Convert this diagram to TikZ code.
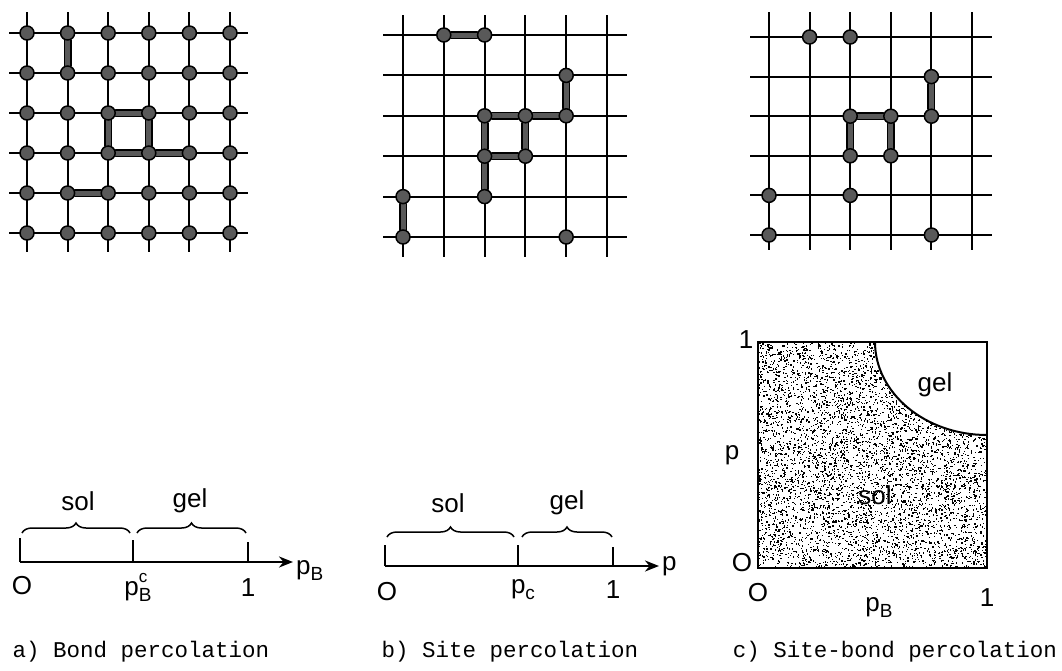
\documentclass[tikz,border=0pt]{standalone}
\usepackage{fontspec}
\setmainfont{Liberation Sans}
\setmonofont{Liberation Mono}
\usetikzlibrary{arrows.meta,decorations.pathreplacing,backgrounds}
\newcommand{\psub}[1]{{\fontsize{19}{19}\selectfont\raisebox{-6pt}{#1}}}
\newcommand{\psup}[1]{{\fontsize{17}{17}\selectfont\raisebox{13pt}{#1}}}

\begin{document}
\begin{tikzpicture}[x=1pt,y=-1pt,
  every node/.style={font=\fontsize{26}{29}\selectfont},
  gridline/.style={line width=2pt},
  site/.style={circle,draw,line width=1.5pt,fill=black!65,minimum size=14pt,inner sep=0pt},
  bond/.style={line width=5pt,black!65,line cap=round,preaction={draw=black,line width=8pt,line cap=round}},
  axis/.style={line width=2.4pt,-{Stealth[length=14pt,width=11pt]}},
  tickline/.style={line width=2pt},
  curly/.style={decorate,decoration={brace,amplitude=10pt},line width=1.5pt},
  capt/.style={font=\ttfamily\fontsize{22.5}{26}\selectfont}]
\useasboundingbox (0,0) rectangle (1062,670);

% a) bond lattice
\begin{scope}[shift={(27,33)}]
\begin{pgfonlayer}{background}
\foreach \i in {0,...,5} {
  \draw[gridline] (-18,\i*40) -- (221,\i*40);
  \draw[gridline] (\i*40.6,-21) -- (\i*40.6,219);
}
\end{pgfonlayer}
\foreach \r in {0,...,5}
  \foreach \c in {0,...,5}
    \node[site] (a\r\c) at (\c*40.6,\r*40) {};
\end{scope}
\begin{pgfonlayer}{background}
\draw[bond] (a01) -- (a11);
\draw[bond] (a22) -- (a23);
\draw[bond] (a22) -- (a32);
\draw[bond] (a23) -- (a33);
\draw[bond] (a32) -- (a33) -- (a34);
\draw[bond] (a41) -- (a42);
\end{pgfonlayer}

% b) site lattice
\begin{scope}[shift={(403,35)}]
\begin{pgfonlayer}{background}
\foreach \i in {0,...,5} {
  \draw[gridline] (-20,\i*40.4) -- (224,\i*40.4);
  \draw[gridline] (\i*40.8,-20) -- (\i*40.8,222);
}
\end{pgfonlayer}
\foreach \r/\c in {0/1,0/2,1/4,2/2,2/3,2/4,3/2,3/3,4/2,4/0,5/0,5/4}
  \node[site] (b\r\c) at (\c*40.8,\r*40.4) {};
\end{scope}
\begin{pgfonlayer}{background}
\draw[bond] (b01) -- (b02);
\draw[bond] (b14) -- (b24);
\draw[bond] (b22) -- (b23) -- (b24);
\draw[bond] (b22) -- (b32);
\draw[bond] (b23) -- (b33);
\draw[bond] (b32) -- (b33);
\draw[bond] (b32) -- (b42);
\draw[bond] (b40) -- (b50);
\end{pgfonlayer}

% c) site-bond lattice
\begin{scope}[shift={(769,37)}]
\begin{pgfonlayer}{background}
\foreach \i in {0,...,5} {
  \draw[gridline] (-19,\i*39.6) -- (223,\i*39.6);
  \draw[gridline] (\i*40.6,-25) -- (\i*40.6,213);
}
\end{pgfonlayer}
\foreach \r/\c in {0/1,0/2,1/4,2/2,2/3,2/4,3/2,3/3,4/0,4/2,5/0,5/4}
  \node[site] (c\r\c) at (\c*40.6,\r*39.6) {};
\end{scope}
\begin{pgfonlayer}{background}
\draw[bond] (c14) -- (c24);
\draw[bond] (c22) -- (c23);
\draw[bond] (c22) -- (c32);
\draw[bond] (c23) -- (c33);
\end{pgfonlayer}

% a) axis
\coordinate (a0) at (20,562);
\coordinate (ac) at (133,562);
\coordinate (a1) at (248,562);
\coordinate (aend) at (293,562);
\draw[axis] (a0) -- (aend);
\draw[tickline] (a0) -- ++(0,-24);
\draw[tickline] (ac) -- ++(0,-22);
\draw[tickline] (a1) -- ++(0,-20);
\draw[curly] (22,533) -- (130,533);
\draw[curly] (137,533) -- (246,533);
\node (asol) at (78,501) {sol};
\node (agel) at (190,501) {gel};
\node (azero) at (22,586) {O};
\node (acrit) at (138,587) {p\rlap{\psup{c}}\psub{B}};
\node (aone) at (248,588) {1};
\node[anchor=west,inner sep=0pt] (alab) at (296,570) {p\psub{B}};

% b) axis
\coordinate (b0) at (385,566);
\coordinate (bc) at (518,566);
\coordinate (b1) at (613,566);
\coordinate (bend) at (659,566);
\draw[axis] (b0) -- (bend);
\draw[tickline] (b0) -- ++(0,-21);
\draw[tickline] (bc) -- ++(0,-21);
\draw[tickline] (b1) -- ++(0,-19);
\draw[curly] (387,537) -- (514,537);
\draw[curly] (522,537) -- (612,537);
\node (bsol) at (448,503) {sol};
\node (bgel) at (567,503) {gel};
\node (bzero) at (387,592) {O};
\node (bcrit) at (523,590) {p\psub{c}};
\node (bone) at (613,590) {1};
\node[anchor=west,inner sep=0pt] (blab) at (662,566) {p};

% c) phase diagram
\begin{scope}
\clip (758,342) -- (875,342) .. controls (875,393) and (925,435) .. (987,435)
  -- (987,568) -- (758,568) -- cycle;
\pgfmathsetseed{11}
\foreach \k in {1,...,6000}
  \fill (758+229*rnd,342+226*rnd) rectangle ++(1.3,1.3);
\end{scope}
\draw[line width=2pt] (758,342) rectangle (987,568);
\draw[line width=2pt] (875,342) .. controls (875,393) and (925,435) .. (987,435);
\node (csol) at (875,495) {sol};
\node (cgel) at (935,385) {gel};
\node (cytop) at (746,340) {1};
\node (cyp) at (732,455) {p};
\node (cyzero) at (742,563) {O};
\node (cxzero) at (758,593) {O};
\node (cxp) at (879,607) {p\psub{B}};
\node (cxone) at (987,598) {1};

% captions
\node[capt] (capa) at (141,652) {a) Bond percolation};
\node[capt] (capb) at (510,652) {b) Site percolation};
\node[capt] (capc) at (895,652) {c) Site-bond percolation};
\end{tikzpicture}
\end{document}
